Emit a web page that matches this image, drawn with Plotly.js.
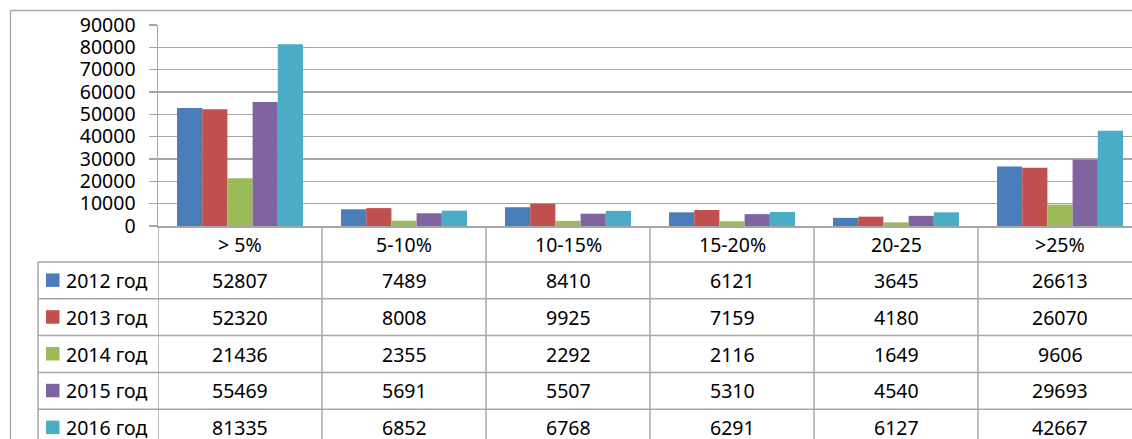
<!DOCTYPE html>
<html>
<head>
<meta charset="utf-8">
<script src="https://cdn.plot.ly/plotly-3.0.1.min.js"></script>
<style>html,body{margin:0;padding:0;background:#fff;}#chart{width:1132px;height:439px;}</style>
</head>
<body>
<div id="chart"></div>
<script>
const categories = ['> 5%', '5-10%', '10-15%', '15-20%', '20-25', '>25%'];
const seriesNames = ['2012 год', '2013 год', '2014 год', '2015 год', '2016 год'];
const s2012 = [52807, 7489, 8410, 6121, 3645, 26613];
const s2013 = [52320, 8008, 9925, 7159, 4180, 26070];
const s2014 = [21436, 2355, 2292, 2116, 1649, 9606];
const s2015 = [55469, 5691, 5507, 5310, 4540, 29693];
const s2016 = [81335, 6852, 6768, 6291, 6127, 42667];
const yTicks = [0, 10000, 20000, 30000, 40000, 50000, 60000, 70000, 80000, 90000];

const seriesValues = [s2012, s2013, s2014, s2015, s2016];
const colors = ['#4A7EBB', '#C0504D', '#9BBB59', '#8064A2', '#4BACC6'];

const W = 1132, H = 439;
const px = x => x / W;
const py = y => 1 - y / H;
const FONT = 'Noto Sans, Open Sans, sans-serif';
const FS = 19.5;
const GRID = '#a6a6a6';

const xIdx = categories.map((c, i) => i);

const traces = seriesValues.map((vals, k) => ({
  type: 'bar',
  x: xIdx,
  y: vals,
  name: seriesNames[k],
  marker: {color: colors[k], line: {width: 0}},
  hoverinfo: 'skip',
  showlegend: false
}));

// table geometry (pixels)
const axisBottom = 226;
const headerBottom = 262;
const rowH = 36.8;
const legendLeft = 38;

const shapes = [];
const annotations = [];

// outer chart border
shapes.push({type: 'line', xref: 'paper', yref: 'paper', x0: px(10.5), x1: 1, y0: py(10.5), y1: py(10.5), line: {color: GRID, width: 1.3}});
shapes.push({type: 'line', xref: 'paper', yref: 'paper', x0: px(10.5), x1: px(10.5), y0: py(10.5), y1: 0, line: {color: GRID, width: 1.3}});

// vertical column lines of table (category boundaries)
for (let i = 0; i < categories.length; i++) {
  shapes.push({type: 'line', xref: 'x', yref: 'paper', x0: i - 0.5, x1: i - 0.5, y0: py(axisBottom), y1: 0, line: {color: GRID, width: 1.5}});
}
// legend column left border
shapes.push({type: 'line', xref: 'paper', yref: 'paper', x0: px(legendLeft), x1: px(legendLeft), y0: py(headerBottom), y1: 0, line: {color: GRID, width: 1.5}});
// horizontal row lines
for (let r = 0; r <= seriesNames.length; r++) {
  const yy = headerBottom + r * rowH;
  shapes.push({type: 'line', xref: 'paper', yref: 'paper', x0: px(legendLeft), x1: 1, y0: py(yy), y1: py(yy), line: {color: GRID, width: 1.5}});
}

// header labels
categories.forEach((c, i) => {
  annotations.push({xref: 'x', yref: 'paper', x: i, y: py((axisBottom + headerBottom) / 2), text: c, showarrow: false, xanchor: 'center', yanchor: 'middle', font: {family: FONT, size: FS, color: '#000'}});
});

// rows
seriesNames.forEach((name, k) => {
  const cy = headerBottom + (k + 0.5) * rowH;
  shapes.push({type: 'rect', xref: 'paper', yref: 'paper', x0: px(46), x1: px(59.5), y0: py(cy - 7), y1: py(cy + 6.5), fillcolor: colors[k], line: {width: 0}});
  annotations.push({xref: 'paper', yref: 'paper', x: px(64), y: py(cy), text: name, showarrow: false, xanchor: 'left', yanchor: 'middle', font: {family: FONT, size: FS, color: '#000'}});
  seriesValues[k].forEach((v, i) => {
    annotations.push({xref: 'x', yref: 'paper', x: i, y: py(cy), text: String(v), showarrow: false, xanchor: 'center', yanchor: 'middle', font: {family: FONT, size: FS, color: '#000'}});
  });
});

const layout = {
  width: W, height: H,
  margin: {l: 0, r: 0, t: 0, b: 0, pad: 0},
  paper_bgcolor: '#fff',
  plot_bgcolor: '#fff',
  barmode: 'group',
  bargap: 0.232,
  bargroupgap: 0,
  font: {family: FONT, size: FS, color: '#000'},
  xaxis: {
    domain: [px(158), 1],
    type: 'linear',
    range: [-0.5, -0.5 + 6 * (W - 158) / 984],
    showticklabels: false,
    ticks: '',
    showgrid: false,
    zeroline: false,
    showline: true,
    linecolor: GRID,
    linewidth: 1.5,
    fixedrange: true
  },
  yaxis: {
    domain: [py(axisBottom), py(25)],
    range: [0, 90000],
    tickvals: yTicks,
    ticktext: yTicks.map(String),
    ticks: 'outside',
    ticklen: 8,
    tickcolor: GRID,
    tickwidth: 1.5,
    ticklabelstandoff: 9,
    tickfont: {family: FONT, size: FS, color: '#000'},
    showgrid: true,
    gridcolor: GRID,
    gridwidth: 1.5,
    zeroline: false,
    showline: true,
    linecolor: GRID,
    linewidth: 1.5,
    fixedrange: true
  },
  shapes: shapes,
  annotations: annotations
};

Plotly.newPlot('chart', traces, layout, {displayModeBar: false, staticPlot: true});
</script>
</body>
</html>
